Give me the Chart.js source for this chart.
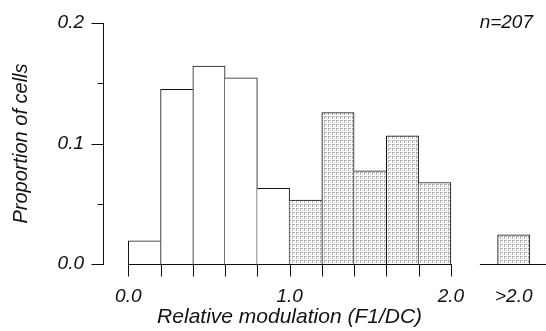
<!DOCTYPE html>
<html>
<head>
<meta charset="utf-8">
<script src="https://cdn.jsdelivr.net/npm/chart.js@4/dist/chart.umd.min.js"></script>
<style>
  html, body { margin: 0; padding: 0; background: #ffffff; }
  #wrap { width: 546px; height: 331px; }
</style>
</head>
<body>
<div id="wrap"><canvas id="c" width="546" height="331"></canvas></div>
<script>
// ---- data ----
const binCenters   = [0.1, 0.3, 0.5, 0.7, 0.9, 1.1, 1.3, 1.5, 1.7, 1.9, 2.39]; // last = ">2.0" bin, placed after the axis break
const proportions  = [0.0193, 0.1449, 0.1643, 0.1546, 0.0628, 0.0531, 0.1256, 0.0773, 0.1063, 0.0676, 0.0242];
const binEdges     = [0, 0.2, 0.4, 0.6, 0.8, 1.0, 1.2, 1.4, 1.6, 1.8, 2.0];
const xTickValues  = [0, 1, 2, 2.39];
const xTickLabels  = ['0.0', '1.0', '2.0', '>2.0'];
const yTickValues  = [0, 0.1, 0.2];
const yTickLabels  = ['0.0', '0.1', '0.2'];
const yMinorTicks  = [0.05, 0.15];
const stippleFrom  = 1.0;
const nLabel       = 'n=207';
const xTitle       = 'Relative modulation (F1/DC)';
const yTitle       = 'Proportion of cells';

// ---- styles ----
const INK = '#111111';
const FONT = 'Liberation Sans, Arial, Helvetica, sans-serif';

function makeStipple() {
  const t = document.createElement('canvas');
  t.width = 4; t.height = 4;
  const g = t.getContext('2d');
  g.fillStyle = '#ffffff'; g.fillRect(0, 0, 4, 4);
  g.fillStyle = '#b0b0b0';
  g.fillRect(0, 0, 3, 1);
  g.fillRect(0, 1, 1, 2);
  g.fillStyle = '#dcdcdc';
  g.fillRect(2, 2, 1, 1);
  return document.getElementById('c').getContext('2d').createPattern(t, 'repeat');
}
const stipple = makeStipple();

function contiguous(i, j) {
  return j >= 0 && j < binCenters.length && Math.abs(binCenters[i] - binCenters[j]) < 0.21;
}

function noPad(s) { s.paddingTop = 0; s.paddingBottom = 0; s.paddingLeft = 0; s.paddingRight = 0; }

const axesPlugin = {
  id: 'brokenAxes',
  afterDraw(chart) {
    const ctx = chart.ctx, xs = chart.scales.x, ys = chart.scales.y;
    const y0 = Math.round(ys.getPixelForValue(0)) + 0.5;
    ctx.save();
    ctx.strokeStyle = INK; ctx.lineWidth = 1;
    ctx.beginPath();
    // main x axis segment 0 .. 2.0
    ctx.moveTo(Math.round(xs.getPixelForValue(binEdges[0])), y0);
    ctx.lineTo(Math.round(xs.getPixelForValue(binEdges[binEdges.length - 1])) + 1, y0);
    // segment after the break (">2.0")
    ctx.moveTo(xs.getPixelForValue(2.18), y0);
    ctx.lineTo(xs.right, y0);
    // x ticks at bin edges
    binEdges.forEach(e => {
      const px = Math.round(xs.getPixelForValue(e)) + 0.5;
      ctx.moveTo(px, y0); ctx.lineTo(px, y0 + 12);
    });
    // y ticks
    const ax = Math.round(ys.right) + 0.5;
    yTickValues.forEach(v => {
      const py = Math.round(ys.getPixelForValue(v)) + 0.5;
      ctx.moveTo(ax - 12, py); ctx.lineTo(ax, py);
    });
    yMinorTicks.forEach(v => {
      const py = Math.round(ys.getPixelForValue(v)) + 0.5;
      ctx.moveTo(ax - 6, py); ctx.lineTo(ax, py);
    });
    ctx.stroke();
    // texts
    ctx.fillStyle = INK;
    ctx.font = 'italic 21px ' + FONT;
    ctx.textAlign = 'center'; ctx.textBaseline = 'alphabetic';
    ctx.fillText(xTitle, (xs.getPixelForValue(0) + xs.getPixelForValue(2)) / 2, 323);
    ctx.font = 'italic 19px ' + FONT;
    ctx.textAlign = 'right';
    ctx.fillText(nLabel, 533, 28);
    ctx.restore();
  }
};

new Chart(document.getElementById('c'), {
  type: 'bar',
  data: {
    datasets: [{
      data: binCenters.map((x, i) => ({ x: x, y: proportions[i] })),
      backgroundColor: c => binCenters[c.dataIndex] > stippleFrom ? stipple : '#ffffff',
      borderColor: INK,
      borderWidth: c => {
        const i = c.dataIndex, v = proportions;
        const left = (!contiguous(i, i - 1) || v[i] > v[i - 1]) ? 1 : 0;
        const right = (!contiguous(i, i + 1) || v[i] >= v[i + 1]) ? 1 : 0;
        return { top: 1, left: left, right: right, bottom: 0 };
      },
      borderSkipped: false,
      barPercentage: 1,
      categoryPercentage: 1
    }]
  },
  options: {
    responsive: false,
    animation: false,
    devicePixelRatio: 1,
    layout: { padding: { top: 23, left: 0, right: 0, bottom: 0 } },
    plugins: { legend: { display: false }, tooltip: { enabled: false } },
    scales: {
      x: {
        type: 'linear',
        offset: false,
        min: -0.157,
        max: 2.59,
        grid: { display: false, drawTicks: false, offset: false },
        border: { display: false },
        afterBuildTicks: s => { s.ticks = xTickValues.map(v => ({ value: v })); },
        afterFit: s => { s.height = 67; noPad(s); },
        ticks: {
          autoSkip: false, maxRotation: 0, padding: 21,
          color: INK,
          font: { family: FONT, size: 19, style: 'italic' },
          callback: (v, i) => xTickLabels[i]
        }
      },
      y: {
        min: 0,
        max: 0.2,
        grid: { display: false, drawTicks: false },
        border: { display: true, color: INK, width: 1 },
        afterBuildTicks: s => { s.ticks = yTickValues.map(v => ({ value: v })); },
        afterFit: s => { s.width = 103; noPad(s); },
        ticks: {
          padding: 19,
          color: INK,
          font: { family: FONT, size: 19, style: 'italic' },
          callback: (v, i) => yTickLabels[i]
        },
        title: {
          display: true,
          text: yTitle,
          color: INK,
          font: { family: FONT, size: 20, style: 'italic' },
          padding: { top: 9, bottom: 0 }
        }
      }
    }
  },
  plugins: [axesPlugin]
});
</script>
</body>
</html>
